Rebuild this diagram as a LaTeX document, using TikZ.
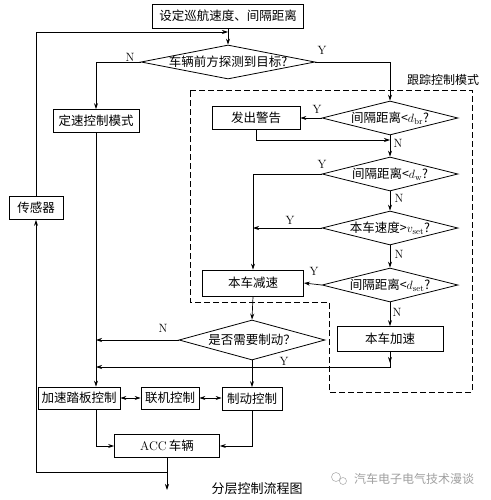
\documentclass[tikz,border=0pt]{standalone}
\usepackage{fontspec}
\newfontfamily\cjk{Noto Sans CJK SC}
\usetikzlibrary{shapes.geometric,arrows.meta}
\begin{document}
\begin{tikzpicture}[x=1pt,y=-1pt,
  box/.style={draw, line width=0.8pt, inner sep=0pt, font=\cjk\fontsize{12.5}{14}\selectfont},
  dia/.style={draw, diamond, line width=0.8pt, inner sep=0pt, minimum width=136pt, minimum height=34pt},
  dt/.style={font=\cjk\fontsize{12.5}{14}\selectfont, inner sep=0pt},
  arr/.style={line width=0.7pt, -{Stealth[length=6pt,width=4pt]}},
  dbl/.style={line width=0.7pt, {Stealth[length=6pt,width=4pt]}-{Stealth[length=6pt,width=4pt]}},
  yn/.style={font=\fontsize{12}{14}\selectfont, inner sep=0pt},
  dashbox/.style={line width=0.9pt, dash pattern=on 6pt off 3pt},
]
\useasboundingbox (0,0) rectangle (490,500);

% nodes
\node[box, minimum width=151pt, minimum height=24pt] (set) at (228,16) {设定巡航速度、间隔距离};
\node[dia, minimum width=174pt, minimum height=34pt] (d1) at (228,62) {};
\node[dt] at (d1) {车辆前方探测到目标?};
\node[box, minimum width=86pt, minimum height=23pt] (cs) at (96,121) {定速控制模式};
\node[box, minimum width=54pt, minimum height=23pt] (sen) at (36,208) {传感器};

\node[dia] (d2) at (390,118) {};
\node[dt] at (d2) {间隔距离<$d_{\mathrm{br}}$?};
\node[box, minimum width=88pt, minimum height=23pt] (warn) at (256,118) {发出警告};
\node[dia] (d3) at (390,174) {};
\node[dt] at (d3) {间隔距离<$d_{\mathrm{w}}$?};
\node[dia] (d4) at (390,228) {};
\node[dt] at (d4) {本车速度>$v_{\mathrm{set}}$?};
\node[dia] (d5) at (390,285) {};
\node[dt] at (d5) {间隔距离<$d_{\mathrm{set}}$?};
\node[box, minimum width=101pt, minimum height=26pt] (dec) at (253,283) {本车减速};
\node[box, minimum width=106pt, minimum height=25pt] (acc) at (390,339) {本车加速};
\node[dia, minimum width=146pt, minimum height=40pt] (d6) at (252,340) {};
\node[dt] at (d6) {是否需要制动？};

\node[box, minimum width=82pt, minimum height=22pt] (pedal) at (79,398) {加速踏板控制};
\node[box, minimum width=58pt, minimum height=22pt] (link) at (170,398) {联机控制};
\node[box, minimum width=60pt, minimum height=23pt] (brake) at (252,399) {制动控制};
\node[box, minimum width=105pt, minimum height=23pt] (car) at (167,446) {{\rmfamily ACC}\,车辆};

% helper coordinates
\coordinate (fb) at (228,32);
\coordinate (j1) at (390,140);
\coordinate (j3) at (96,367);
\coordinate (j4) at (167,472);
\coordinate (bot) at (167,490);

% dashed region
\draw[dashbox] (190,90) -- (472,90) -- (472,392) -- (329,392) -- (329,302) -- (190,302) -- cycle;
\node[dt, font=\cjk\fontsize{12}{14}\selectfont] (mode) at (443,80) {跟踪控制模式};

% connectors
\draw[arr] (set.south) -- (d1.north);
\draw[arr] (sen.north) |- (fb);
\draw[arr] (d1.west) -| (cs.north);
\draw[arr] (d1.east) -| (d2.north);
\draw[arr] (d2.west) -- (warn.east);
\draw[arr] (warn.south) |- (j1);
\draw[arr] (d2.south) -- (d3.north);
\draw[arr] (d3.west) -| (dec.north);
\draw[arr] (d3.south) -- (d4.north);
\draw[arr] (d4.west) -- (d4.west -| dec.north);
\draw[arr] (d4.south) -- (d5.north);
\draw[arr] (d5.west) -- (dec.east);
\draw[arr] (d5.south) -- (acc.north);
\draw[arr] (dec.south) -- (d6.north);
\draw[arr] (cs.south) -- (cs.south |- pedal.north);
\draw[arr] (d6.west) -- (d6.west -| cs.south);
\draw[arr] (acc.south) -- ++(0,11);
\draw[arr] (acc.south) |- (j3);
\draw[arr] (d6.south) -- (brake.north);
\draw[dbl] (pedal.east) -- (link.west);
\draw[dbl] (link.east) -- (brake.west |- link.east);
\draw[arr] (pedal.south -| cs.south) |- (car.west);
\draw[arr] (brake.south) |- (car.east);
\draw[arr] (car.south) -- (bot);
\draw[arr] (j4) -| (sen.south);

% Y / N labels
\node[yn] at (130,57) {N};
\node[yn] at (322,50) {Y};
\node[yn] at (317,109) {Y};
\node[yn] at (398,143) {N};
\node[yn] at (322,164) {Y};
\node[yn] at (399,198) {N};
\node[yn] at (290,220) {Y};
\node[yn] at (399,254) {N};
\node[yn] at (314,271) {Y};
\node[yn] at (397,312) {N};
\node[yn] at (163,328) {N};
\node[yn] at (284,361) {Y};

% caption and watermark
\node[font=\cjk\fontsize{13}{15}\selectfont, inner sep=0pt] (cap) at (257,489) {分层控制流程图};
\draw[gray!60, line width=0.6pt] (336,477) circle (4.5pt) (343,481) circle (3.5pt);
\node[text=gray!75, font=\cjk\fontsize{12}{14}\selectfont, inner sep=0pt] (wm) at (414,479) {汽车电子电气技术漫谈};
\end{tikzpicture}
\end{document}
